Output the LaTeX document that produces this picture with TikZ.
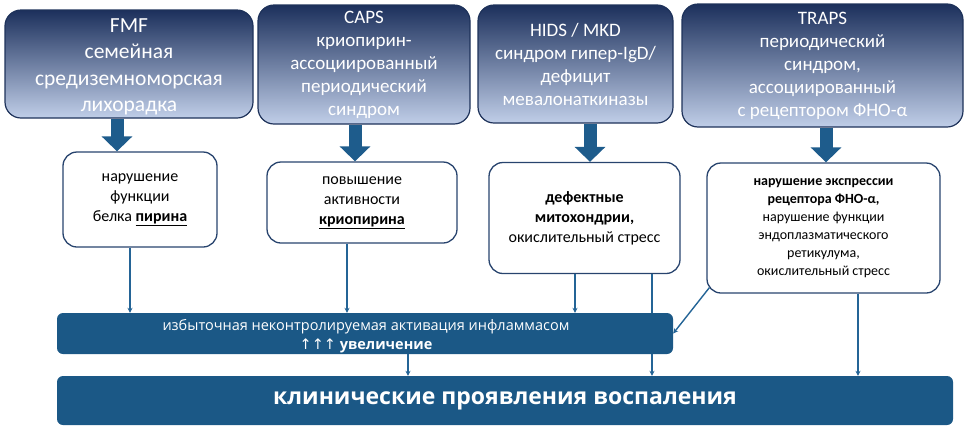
\documentclass[tikz,border=0pt]{standalone}
\usepackage{fontspec}
\setmainfont{Carlito}
\newfontfamily\osans{Open Sans}
\newfontfamily\dvs{DejaVu Sans}
\usetikzlibrary{arrows.meta,calc}
\definecolor{topdark}{RGB}{28,48,92}
\definecolor{toplight}{RGB}{192,206,232}
\definecolor{boxedge}{RGB}{30,50,90}
\definecolor{midedge}{RGB}{40,68,110}
\definecolor{barblue}{RGB}{27,88,134}
\definecolor{arrowblue}{RGB}{30,92,140}
\definecolor{linkblue}{RGB}{36,100,150}
\begin{document}
\begin{tikzpicture}[x=1pt,y=-1pt,
 topbox/.style={draw=boxedge, line width=1.2pt, rounded corners=16pt, top color=topdark, bottom color=toplight, text=white, align=center, inner sep=0pt},
 midbox/.style={draw=midedge, line width=1.3pt, rounded corners=14pt, fill=white, align=center, inner sep=0pt, text=black},
 barbox/.style={fill=barblue, rounded corners=6pt, inner sep=0pt, text=white, align=center},
 fat/.style={draw=arrowblue, line width=13pt, -{Triangle[width=30pt,length=15pt]}},
 thin/.style={draw=linkblue, line width=1.4pt, -{Stealth[length=5pt,width=5pt]}},
 bigtxt/.style={font=\fontsize{21.5}{26.5}\selectfont},
 toptxt/.style={font=\fontsize{19}{23}\selectfont},
 midtxt/.style={font=\fontsize{16}{20}\selectfont},
 smalltxt/.style={font=\fontsize{14}{18}\selectfont}]
\useasboundingbox (0,0) rectangle (965,437);

\node[topbox, bigtxt, minimum width=248pt, minimum height=108pt] (t1) at (129,64) {};
\node[text=white, align=center, bigtxt, inner sep=0pt] (t1txt) at (129,67) {FMF\\семейная\\средиземноморская\\лихорадка};
\node[topbox, toptxt, minimum width=212pt, minimum height=119pt] (t2) at (364,64.5) {CAPS\\криопирин-\\ассоциированный\\периодический\\синдром};
\node[topbox, toptxt, minimum width=195pt, minimum height=118pt] (t3) at (575.5,64) {HIDS / MKD\\синдром гипер-IgD/\\дефицит\\мевалонаткиназы};
\node[topbox, toptxt, minimum width=281pt, minimum height=123pt] (t4) at (822.5,65.5) {TRAPS\\периодический\\синдром,\\ассоциированный\\с рецептором ФНО-α};

\node[midbox, midtxt, minimum width=154pt, minimum height=95pt] (m1) at (140,199.5) {нарушение\\функции\\белка \underline{\textbf{пирина}}};
\node[midbox, midtxt, minimum width=190pt, minimum height=81pt] (m2) at (362,202.5) {повышение\\активности\\\underline{\textbf{криопирина}}};
\node[midbox, midtxt, minimum width=191pt, minimum height=111pt] (m3) at (584.5,218) {\textbf{дефектные}\\\textbf{митохондрии,}\\окислительный стресс};
\node[midbox, smalltxt, minimum width=233pt, minimum height=130pt] (m4) at (823.5,228) {\textbf{нарушение экспрессии}\\\textbf{рецептора ФНО-α,}\\нарушение функции\\эндоплазматического\\ретикулума,\\окислительный стресс};

\draw[fat] ([xshift=-12pt]t1.south) -- ([xshift=-12pt]t1.south |- m1.north);
\draw[fat] ([xshift=-9pt]t2.south) -- ([xshift=-9pt]t2.south |- m2.north);
\draw[fat] ([xshift=14.5pt]t3.south) -- ([xshift=14.5pt]t3.south |- m3.north);
\draw[fat] ([xshift=3.5pt]t4.south) -- ([xshift=3.5pt]t4.south |- m4.north);

\node[barbox, font=\osans\bfseries\fontsize{23}{27}\selectfont, minimum width=896pt, minimum height=49pt] (clinic) at (505,400.5) {клинические проявления воспаления};

\draw[thin] ([xshift=67.5pt]m3.south) -- ([xshift=67.5pt]m3.south |- clinic.north);

\node[barbox, font=\osans\fontsize{14.5}{19}\selectfont, minimum width=616pt, minimum height=41pt] (infl) at (365,333.5) {};
\node[text=white, align=center, font=\osans\fontsize{14.5}{19}\selectfont, inner sep=0pt] (infltxt) at (366,336) {избыточная неконтролируемая активация инфламмасом\\{\dvs ↑↑↑} \textbf{увеличение}};

\draw[thin] ([xshift=-10pt]m1.south) -- ([xshift=-10pt]m1.south |- infl.north);
\draw[thin] ([xshift=-15pt]m2.south) -- ([xshift=-15pt]m2.south |- infl.north);
\draw[thin] ([xshift=-9.5pt]m3.south) -- ([xshift=-9.5pt]m3.south |- infl.north);
\draw[thin] ($(m4.south west)+(3,-6)$) -- (infl.east);
\draw[thin] ([xshift=34.5pt]m4.south) -- ([xshift=34.5pt]m4.south |- clinic.north);
\draw[thin] ([xshift=43pt]infl.south) -- ([xshift=43pt]infl.south |- clinic.north);
\end{tikzpicture}
\end{document}
